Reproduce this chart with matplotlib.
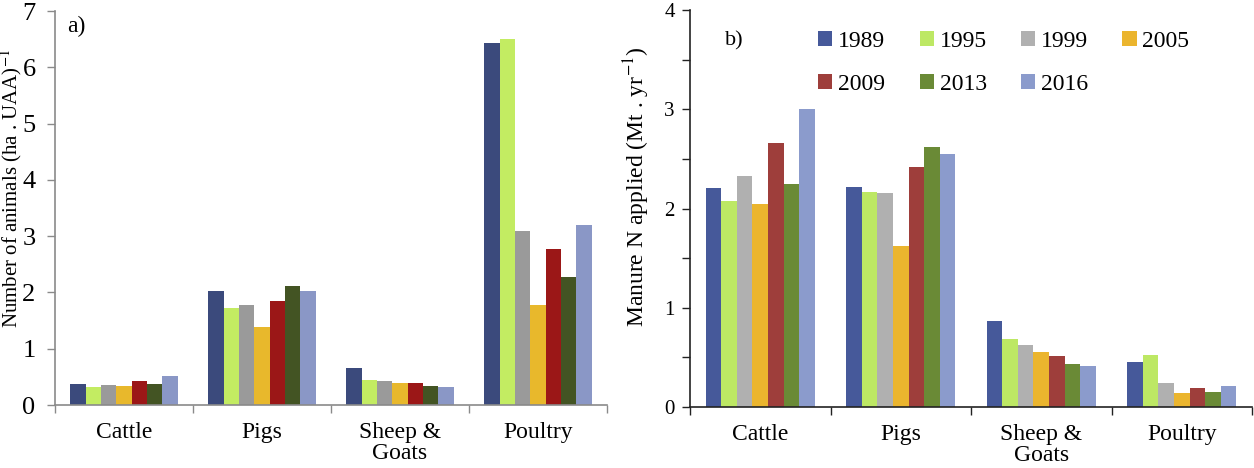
import matplotlib
matplotlib.use("Agg")
import matplotlib.pyplot as plt
import numpy as np

plt.rcParams['font.family'] = ['Liberation Serif', 'DejaVu Serif']
plt.rcParams['mathtext.fontset'] = 'stix'

categories = ["Cattle", "Pigs", "Sheep &\nGoats", "Poultry"]
years = ["1989", "1995", "1999", "2005", "2009", "2013", "2016"]

# Panel a) Number of animals (ha . UAA)^-1
animals = {
    "1989": [0.38, 2.02, 0.66, 6.43],
    "1995": [0.32, 1.72, 0.45, 6.50],
    "1999": [0.36, 1.77, 0.42, 3.10],
    "2005": [0.33, 1.39, 0.39, 1.78],
    "2009": [0.43, 1.85, 0.39, 2.77],
    "2013": [0.38, 2.12, 0.34, 2.28],
    "2016": [0.51, 2.02, 0.32, 3.20],
}

# Panel b) Manure N applied (Mt . yr^-1)
manure = {
    "1989": [2.21, 2.22, 0.87, 0.45],
    "1995": [2.08, 2.17, 0.69, 0.52],
    "1999": [2.33, 2.16, 0.62, 0.245],
    "2005": [2.05, 1.62, 0.55, 0.14],
    "2009": [2.66, 2.42, 0.51, 0.19],
    "2013": [2.25, 2.62, 0.43, 0.15],
    "2016": [3.00, 2.55, 0.41, 0.21],
}

colors_a = ["#3b4a7c", "#c3ec62", "#9a9a9a", "#e8b82c", "#9b1717", "#435423", "#8a97c6"]
colors_b = ["#46599a", "#bde864", "#b0b0b0", "#ebb52e", "#9e3e3b", "#6a8a36", "#8b9bcc"]

fig = plt.figure(figsize=(12.54, 4.68), dpi=100)
W, H = 1254, 468
axa = fig.add_axes([55 / W, (H - 405) / H, (607 - 55) / W, (405 - 11) / H])
axb = fig.add_axes([690 / W, (H - 407) / H, (1252 - 690) / W, (407 - 10) / H])

x = np.arange(len(categories))
bw = 0.111
offsets = (np.arange(len(years)) - 3) * bw


def style(ax, spine_color, ymax, major, minor, tick_fs, ypad):
    for s in ["top", "right"]:
        ax.spines[s].set_visible(False)
    for s in ["left", "bottom"]:
        ax.spines[s].set_color(spine_color)
        ax.spines[s].set_linewidth(1.2)
    ax.set_xlim(-0.5, len(categories) - 0.5)
    ax.set_ylim(0, ymax)
    ax.set_yticks(np.arange(0, ymax + 0.01, major))
    if minor:
        ax.set_yticks(np.arange(0, ymax + 0.01, minor), minor=True)
    ax.set_yticklabels([str(int(v)) for v in np.arange(0, ymax + 0.01, major)], fontsize=tick_fs)
    ax.tick_params(axis='y', which='both', direction='out', length=6, color=spine_color, width=1.0, pad=ypad)
    ax.set_xticks(np.arange(-0.5, len(categories), 1.0))
    ax.set_xticklabels([])
    ax.tick_params(axis='x', which='major', direction='out', length=6, color=spine_color, width=1.0)
    ax.set_xticks(x, minor=True)
    ax.set_xticklabels(categories, minor=True, fontsize=17, linespacing=1.0)
    ax.tick_params(axis='x', which='minor', length=0, pad=12)


for i, y in enumerate(years):
    axa.bar(x + offsets[i], animals[y], width=bw, color=colors_a[i], label=y)
    axb.bar(x + offsets[i], manure[y], width=bw, color=colors_b[i], label=y)

style(axa, "#8a8a8a", 7, 1, None, 19, 8)
style(axb, "#222222", 4, 1, 0.5, 15, 5)

axa.set_ylabel("Number of animals (ha . UAA)$^{-1}$", fontsize=15)
axa.yaxis.set_label_coords(-0.056, 0.55)
axb.set_ylabel("Manure N applied (Mt . yr$^{-1}$)", fontsize=17)
axb.yaxis.set_label_coords(-0.068, 0.555)

axa.text(0.022, 0.96, "a)", transform=axa.transAxes, fontsize=17, va="center", ha="left")
axb.text(0.062, 0.922, "b)", transform=axb.transAxes, fontsize=16, va="center", ha="left")

# legend in row-major order (matplotlib fills column-wise)
handles, labels = axb.get_legend_handles_labels()
ncol = 4
nrow = 2
order = []
for c in range(ncol):
    for r in range(nrow):
        k = r * ncol + c
        if k < len(handles):
            order.append(k)
leg = axb.legend([handles[k] for k in order], [labels[k] for k in order],
                 ncol=ncol, loc="upper left", bbox_to_anchor=(0.228, 0.948), frameon=False,
                 fontsize=17, handlelength=0.6, handleheight=0.6, handletextpad=0.25,
                 columnspacing=1.45, labelspacing=0.95, borderpad=0, borderaxespad=0)

fig.savefig("out.png", dpi=100)
